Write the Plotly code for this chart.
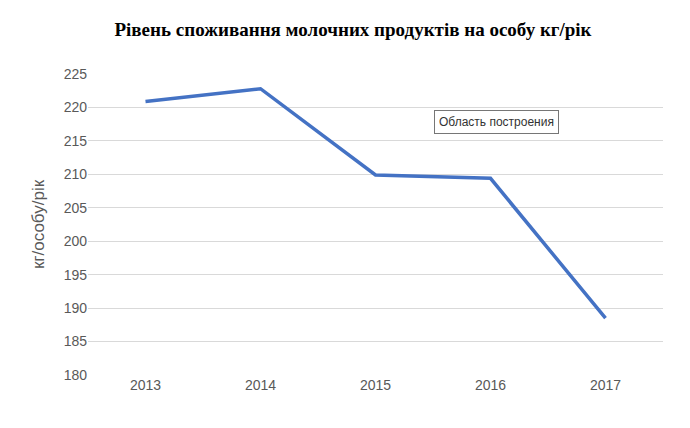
import plotly.graph_objects as go

years = ["2013", "2014", "2015", "2016", "2017"]
values = [220.9, 222.8, 209.9, 209.4, 188.5]
labels = ["220,9", "222,8", "209,9", "209,4", "188,5"]
y_ticks = [180, 185, 190, 195, 200, 205, 210, 215, 220, 225]

fig = go.Figure()
fig.add_trace(go.Scatter(
    x=years, y=values, mode="lines",
    line=dict(color="#4472C4", width=3.5),
    hoverinfo="skip"
))

# data labels above the points (last one offset to the right like in Excel)
for i, (yr, v, lab) in enumerate(zip(years, values, labels)):
    fig.add_annotation(
        x=yr, y=v, text=lab, showarrow=False,
        yshift=22, xshift=18 if i == len(years) - 1 else 0,
        font=dict(family="Liberation Sans, Arial", size=15, color="#404040")
    )

fig.update_layout(
    width=690, height=428,
    paper_bgcolor="white", plot_bgcolor="white",
    margin=dict(l=80, r=35, t=66, b=61),
    showlegend=False,
    title=dict(text="<b>Рівень споживання молочних продуктів на особу кг/рік</b>",
               x=0.5, xanchor="center", y=0.95, yanchor="middle",
               font=dict(family="Liberation Serif, Times New Roman", size=19, color="black")),
    xaxis=dict(type="category", range=[-0.5, 4.5], showgrid=False, showline=False,
               ticks="", tickfont=dict(family="Liberation Sans, Arial", size=14, color="#595959")),
    yaxis=dict(range=[180, 225], tickvals=y_ticks, showgrid=True, gridcolor="#D9D9D9",
               zeroline=False, showline=False,
               tickfont=dict(family="Liberation Sans, Arial", size=14, color="#595959"),
               title=dict(text="кг/особу/рік", standoff=14,
                          font=dict(family="Liberation Sans, Arial", size=17, color="#595959"))),
)
fig.add_annotation(
    xref="paper", yref="paper", x=0.71, y=0.84, xanchor="center", yanchor="middle",
    showarrow=False,
    text="Область построения", bgcolor="white", bordercolor="#767676", borderwidth=1,
    borderpad=4, font=dict(family="Liberation Sans, Arial", size=12, color="#333333")
)

fig.write_html("out.html")
